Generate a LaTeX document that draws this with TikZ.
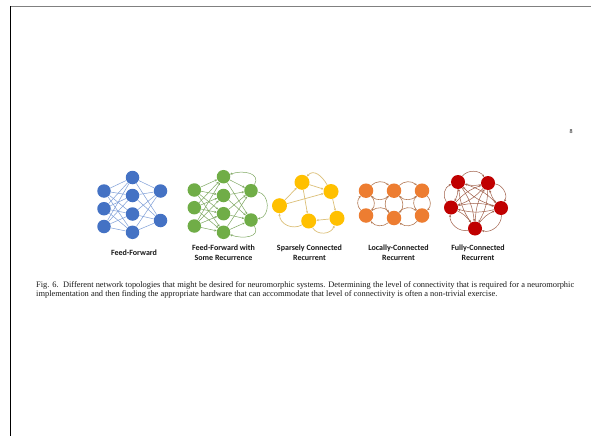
\documentclass[tikz,border=0pt]{standalone}
\usepackage{fontspec}
\setmainfont{Liberation Serif}
\newfontfamily\labfont{Carlito}
\usetikzlibrary{arrows.meta}
\definecolor{cblue}{HTML}{4472C4}
\definecolor{cbluee}{HTML}{7F9FD8}
\definecolor{cgreen}{HTML}{70AD47}
\definecolor{cgreene}{HTML}{7FA862}
\definecolor{cyel}{HTML}{FFC000}
\definecolor{cyele}{HTML}{DCC079}
\definecolor{corange}{HTML}{ED7D31}
\definecolor{corangee}{HTML}{B47A55}
\definecolor{cred}{HTML}{C00000}
\definecolor{crede}{HTML}{A0604A}
\tikzset{
  neu/.style={circle, fill=#1, draw=none, minimum size=13.5pt, inner sep=0pt},
  tip/.style={-{Stealth[length=2.4pt,width=2.2pt]}},
  bedge/.style={draw=cbluee, line width=0.5pt},
  gedge/.style={draw=cgreene, line width=0.5pt, tip},
  yedge/.style={draw=cyele, line width=0.7pt, tip},
  oedge/.style={draw=corangee, line width=0.6pt, tip},
  redge/.style={draw=crede, line width=0.5pt, tip},
  lab/.style={font=\labfont\bfseries\fontsize{8}{10}\selectfont, align=center, text=black!90},
  captext/.style={font=\fontsize{8.4}{9.4}\selectfont, anchor=base west, inner sep=0pt, text=black!90}
}
\begin{document}
\begin{tikzpicture}[x=1pt,y=-1pt]
\useasboundingbox[fill=white] (0,0) rectangle (591,436);
% page frame
\coordinate (ftl) at (10.5,6.5);
\coordinate (ftr) at (591,6.5);
\coordinate (fbl) at (10.5,436);
\draw[gray, line width=1pt] (ftl) -- (ftr);
\draw[black, line width=1.2pt] (ftl) -- (fbl);
\node[font=\fontsize{6}{7}\selectfont] (pnum) at (571,132) {8};

% ---------- Feed-forward (blue)
\foreach \n/\y in {1/191,2/208.7,3/226.5}{\node[neu=cblue] (b\n) at (104,\y) {};}
\foreach \n/\y in {4/177.5,5/195.5,6/214,7/232.3}{\node[neu=cblue] (b\n) at (132.5,\y) {};}
\foreach \n/\y in {8/191,9/220.5}{\node[neu=cblue] (b\n) at (160.5,\y) {};}
\foreach \i in {1,2,3}{\foreach \j in {4,...,7}{\draw[bedge] (b\i) -- (b\j);}}
\foreach \i in {4,...,7}{\foreach \j in {8,9}{\draw[bedge] (b\i) -- (b\j);}}

% ---------- Feed-forward with recurrence (green)
\foreach \n/\y in {1/190,2/207.7,3/226}{\node[neu=cgreen] (g\n) at (194.3,\y) {};}
\foreach \n/\y in {4/176.7,5/195.5,6/213.7,7/232.3}{\node[neu=cgreen] (g\n) at (223.5,\y) {};}
\foreach \n/\y in {8/190.7,9/220}{\node[neu=cgreen] (g\n) at (251,\y) {};}
\foreach \i in {1,2,3}{\foreach \j in {4,...,7}{\draw[gedge] (g\i) -- (g\j);}}
\foreach \i in {4,...,7}{\foreach \j in {8,9}{\draw[gedge] (g\i) -- (g\j);}}
\draw[gedge] (g8) to[out=60,in=20,looseness=1.3] (g4);
\draw[gedge] (g8) to[out=-10,in=10,looseness=1.2] (g9);
\draw[gedge] (g9) to[out=-60,in=-20,looseness=1.3] (g7);

% ---------- Sparse recurrent (yellow)
\node[neu=cyel, minimum size=15pt] (ya) at (302,182.3) {};
\node[neu=cyel, minimum size=15pt] (yb) at (331,191.5) {};
\node[neu=cyel, minimum size=15pt] (yc) at (279.5,205.7) {};
\node[neu=cyel, minimum size=15pt] (yd) at (308.7,221) {};
\node[neu=cyel, minimum size=15pt] (ye) at (337,218.3) {};
\draw[yedge] (ya) -- (yb);
\draw[yedge] (yb) to[out=120,in=50,looseness=1.2] (ya);
\draw[yedge] (ya) -- (yd);
\draw[yedge] (yc) -- (ya);
\draw[yedge] (yc) -- (yb);
\draw[yedge] (yb) -- (ye);
\draw[yedge] (ye) -- (yd);
\draw[yedge] (yd) to[out=-60,in=-110,looseness=1.1] (ye);
\draw[yedge] (yd) to[out=-150,in=-90,looseness=1.1] (yc);

% ---------- Locally connected (orange)
\node[neu=corange, minimum size=14.5pt] (o11) at (366,190.7) {};
\node[neu=corange, minimum size=14.5pt] (o12) at (394,190.7) {};
\node[neu=corange, minimum size=14.5pt] (o13) at (422,190.7) {};
\node[neu=corange, minimum size=14.5pt] (o21) at (366,215.5) {};
\node[neu=corange, minimum size=14.5pt] (o22) at (394,218) {};
\node[neu=corange, minimum size=14.5pt] (o23) at (422,215.5) {};
\foreach \a/\b in {o11/o12,o12/o13,o21/o22,o22/o23,o11/o21,o12/o22,o13/o23}{
  \draw[oedge] (\a) to[bend left=45] (\b);
  \draw[oedge] (\b) to[bend left=45] (\a);
}

% ---------- Fully connected (red)
\node[neu=cred, minimum size=14pt] (r1) at (458,182) {};
\node[neu=cred, minimum size=14pt] (r2) at (488,183) {};
\node[neu=cred, minimum size=14pt] (r3) at (501,208) {};
\node[neu=cred, minimum size=14pt] (r4) at (475,228.5) {};
\node[neu=cred, minimum size=14pt] (r5) at (451,207.5) {};
\foreach \a/\b in {r1/r2,r2/r3,r3/r4,r4/r5,r5/r1}{
  \draw[redge] (\a) to[bend left=55] (\b);
  \draw[redge] (\b) to[bend left=14] (\a);
}
\foreach \a/\b in {r1/r3,r1/r4,r2/r4,r2/r5,r3/r5}{
  \draw[redge] (\a) to[bend left=14] (\b);
  \draw[redge] (\b) to[bend left=14] (\a);
}

% ---------- labels
\node[lab] (l1) at (134,252.7) {Feed-Forward};
\node[lab] (l2) at (223.5,252.7) {Feed-Forward with\\Some Recurrence};
\node[lab] (l3) at (309.5,252.7) {Sparsely Connected\\Recurrent};
\node[lab] (l4) at (398.5,252.7) {Locally-Connected\\Recurrent};
\node[lab] (l5) at (478,252.7) {Fully-Connected\\Recurrent};

% ---------- caption
\node[captext] (c1) at (36,287) {\makebox[538pt][s]{Fig. 6.\ \ Different network topologies that might be desired for neuromorphic systems. Determining the level of connectivity that is required for a neuromorphic}};
\node[captext] (c2) at (36,296.4) {implementation and then finding the appropriate hardware that can accommodate that level of connectivity is often a non-trivial exercise.};
\end{tikzpicture}
\end{document}
